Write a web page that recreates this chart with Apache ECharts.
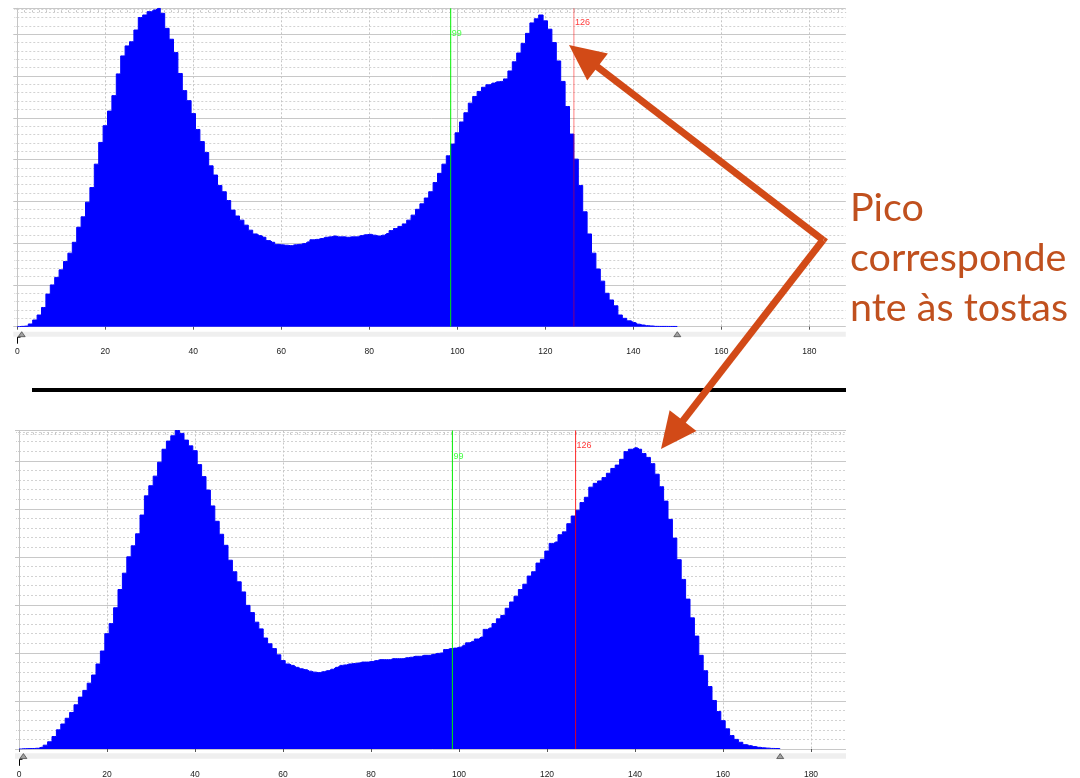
<!DOCTYPE html>
<html><head><meta charset="utf-8">
<script src="https://cdn.jsdelivr.net/npm/echarts@6/dist/echarts.min.js"></script>
<style>html,body{margin:0;padding:0;background:#fff}#c{width:1080px;height:778px}</style>
</head><body><div id="c"></div>
<script>
// ---------- data ----------
const xTickLabels = [0, 20, 40, 60, 80, 100, 120, 140, 160, 180];

// histogram counts per bin (bin k is centred on k), upper image (arbitrary units)
const topCounts = [
  0, 0.8, 1.5, 6.5, 16, 28, 46, 78, 100, 118,
  136, 156, 176, 202, 238, 263, 298, 333, 389, 441,
  481, 516, 553, 605, 648, 672, 682, 710, 740, 746,
  754, 758, 762, 750, 714, 688, 656, 606, 565, 541,
  510, 472, 443, 417, 385, 363, 338, 323, 302, 279,
  265, 255, 243, 231, 222, 218, 214, 206, 202, 197,
  196, 195, 194, 196, 197, 199, 203, 208, 209, 211,
  214, 215, 217, 215, 215, 214, 215, 215, 218, 220,
  221, 219, 217, 219, 223, 230, 235, 240, 246, 255,
  267, 281, 294, 308, 323, 345, 367, 389, 409, 437,
  464, 490, 512, 535, 551, 563, 573, 579, 583, 586,
  587, 593, 612, 634, 655, 678, 702, 727, 737, 746,
  732, 712, 680, 636, 587, 527, 461, 401, 338, 275,
  222, 176, 138, 109, 80, 64, 50, 28, 20, 14,
  10, 6, 4, 2.5, 1.7, 0.8, 0.7, 0.7, 0.6, 0.6,
  0.5
];

// histogram counts per bin, lower image
const bottomCounts = [
  0, 0.6, 0.8, 1, 1.5, 3.5, 8, 15, 26, 40,
  52, 64, 76, 92, 108, 122, 137, 154, 177, 204,
  240, 261, 294, 332, 366, 400, 423, 448, 487, 527,
  548, 568, 597, 624, 641, 652, 663, 657, 643, 631,
  621, 592, 567, 539, 506, 474, 447, 424, 393, 369,
  348, 327, 299, 284, 264, 250, 231, 219, 209, 196,
  184, 177, 174, 170, 167, 165, 162, 160, 159, 161,
  163, 166, 170, 174, 175, 177, 178, 179, 181, 181,
  182, 184, 186, 186, 186, 188, 188, 188, 190, 191,
  193, 193, 195, 195, 197, 199, 200, 207, 209, 210,
  212, 216, 221, 224, 229, 233, 249, 252, 261, 271,
  278, 293, 306, 318, 332, 343, 360, 369, 387, 395,
  412, 428, 431, 446, 452, 469, 485, 497, 513, 524,
  545, 553, 558, 565, 574, 584, 591, 603, 619, 624,
  627, 624, 615, 607, 594, 572, 546, 516, 478, 439,
  394, 353, 312, 273, 235, 195, 163, 130, 101, 78,
  59, 42, 28, 20, 14, 9, 7, 5, 3.5, 2.5,
  1.8, 1.2, 1, 0.7
];

const thresholds = [99, 126];            // inclusive threshold range (bins)
const thresholdLabels = ['99', '126'];
const topLabelLevels = [701, 727];       // y level of the threshold labels
const bottomLabelLevels = [609, 632];
const topCursors = [1, 150];             // range slider triangles
const bottomCursors = [1, 173];
const originMarker = [0];                // black cursor mark under the slider
const TOP_MAX = 762;
const BOTTOM_MAX = 663;

const annotationLines = ['Pico', 'corresponde', 'nte às tostas'];

// ---------- layout / style ----------
const PX_PER_UNIT = 4.4;
const panels = [
  { counts: topCounts, yMax: TOP_MAX, levels: topLabelLevels, cursors: topCursors,
    grid: { left: 17.3, top: 8.3, width: 828.5, height: 318.4 },
    strip: { left: 13.3, top: 331.7, width: 832.5, height: 5 },
    green: '#00ee00', red: 'rgba(255,0,0,0.5)', greenText: '#44ff44', redText: '#ff3b3b', labelMargin: 10.5 },
  { counts: bottomCounts, yMax: BOTTOM_MAX, levels: bottomLabelLevels, cursors: bottomCursors,
    grid: { left: 19, top: 430.5, width: 827, height: 318.5 },
    strip: { left: 15, top: 753.3, width: 831, height: 5.5 },
    green: '#00ee00', red: 'rgba(255,0,0,0.85)', greenText: '#44ff44', redText: '#ff3b3b', labelMargin: 11 }
];

const grids = [], xAxes = [], yAxes = [], series = [];
const DOT = [2, 2];

panels.forEach((p) => {
  const xMax = p.grid.width / PX_PER_UNIT;
  const gMain = grids.length;
  grids.push(Object.assign({ outerBoundsMode: 'none', containLabel: false, z: 0 }, p.grid));
  const gStrip = grids.length;
  grids.push(Object.assign({ outerBoundsMode: 'none', containLabel: false, show: true, z: 0,
    backgroundColor: '#efefef', borderWidth: 0 }, p.strip));

  const xBase = xAxes.length;
  xAxes.push({ gridIndex: gMain, z: 0, type: 'value', position: 'bottom', min: 0, max: xMax, interval: 20,
    axisLine: { show: false }, axisTick: { show: false }, axisLabel: { show: false },
    splitLine: { show: true, showMinLine: false, showMaxLine: false,
      lineStyle: { color: '#c6c6c6', type: DOT, width: 1 } } });
  xAxes.push({ gridIndex: gMain, z: 0, type: 'value', position: 'bottom', offset: 10, min: 0, max: xMax, interval: 20,
    axisLine: { show: false },
    axisTick: { show: true, length: 3, customValues: xTickLabels, lineStyle: { color: '#555', width: 1 } },
    axisLabel: { show: true, customValues: xTickLabels, margin: p.labelMargin, fontSize: 8.5,
      fontFamily: 'Liberation Sans', color: '#222' },
    splitLine: { show: false } });
  xAxes.push({ gridIndex: gMain, z: 0, type: 'value', position: 'bottom', min: 0, max: xMax, interval: 100,
    axisLine: { show: false }, axisTick: { show: false }, axisLabel: { show: false },
    splitLine: { show: true, showMinLine: false, showMaxLine: false,
      lineStyle: { color: '#c2c2c2', width: 1 } } });
  xAxes.push({ gridIndex: gMain, z: 0, type: 'value', position: 'top', offset: -4, min: 0, max: xMax, interval: 20,
    axisLine: { show: true, lineStyle: { color: '#cfcfcf', type: [1, 3] } },
    axisTick: { show: false }, axisLabel: { show: false }, splitLine: { show: false },
    minorTick: { show: true, splitNumber: 12, length: 2, lineStyle: { color: '#c4c4c4' } } });
  const xStrip = xAxes.length;
  const sMin = -(p.grid.left - p.strip.left) / PX_PER_UNIT;
  xAxes.push({ gridIndex: gStrip, z: 0, type: 'value', show: false, min: sMin,
    max: sMin + p.strip.width / PX_PER_UNIT });

  yAxes.push({ gridIndex: gMain, z: 0, type: 'value', position: 'left', min: 0, max: p.yMax, interval: 20,
    axisLine: { show: false }, axisLabel: { show: false },
    axisTick: { show: true, length: 4, lineStyle: { color: '#d0d0d0', type: [1, 1] } },
    splitLine: { show: true, showMinLine: false, showMaxLine: false,
      lineStyle: { color: '#d2d2d2', type: DOT, width: 1 } } });
  const yMajor = yAxes.length;
  yAxes.push({ gridIndex: gMain, z: 0, type: 'value', position: 'left', min: 0, max: p.yMax, interval: 100,
    axisLine: { show: true, lineStyle: { color: '#c4c4c4', width: 1 } }, axisLabel: { show: false },
    axisTick: { show: true, length: 4, lineStyle: { color: '#c4c4c4' } },
    splitLine: { show: true, lineStyle: { color: '#c8c8c8', width: 1 } } });
  const yStrip = yAxes.length;
  yAxes.push({ gridIndex: gStrip, z: 0, type: 'value', show: false, min: 0, max: 1 });

  // histogram: step area, each bin centred on its index
  series.push({
    type: 'line', xAxisIndex: xBase, yAxisIndex: yMajor, silent: true, z: 10,
    step: 'middle', symbol: 'none', showSymbol: false,
    lineStyle: { color: '#0000ff', width: 1 },
    areaStyle: { color: '#0000ff', opacity: 1 },
    data: p.counts.map((v, k) => [k, v])
  });

  // threshold lines at the outer bin edges of the inclusive range
  thresholds.forEach((t, i) => {
    const edge = i === 0 ? t - 0.5 : t + 0.5;
    series.push({
      type: 'line', xAxisIndex: xBase, yAxisIndex: yMajor, silent: true, z: 12,
      symbol: 'none', showSymbol: false,
      lineStyle: { color: i === 0 ? p.green : p.red, width: 1 },
      data: [[edge, 0], [edge, p.yMax]]
    });
  });
  // threshold labels
  series.push({
    type: 'custom', xAxisIndex: xBase, yAxisIndex: yMajor, silent: true, clip: false, z: 13,
    data: thresholds.map((t, i) => [i === 0 ? t - 0.5 : t + 0.5, p.levels[i]]),
    renderItem: function (params, api) {
      const pt = api.coord([api.value(0), api.value(1)]);
      const i = params.dataIndex;
      return { type: 'text', x: pt[0] + 1, y: pt[1],
        style: { text: thresholdLabels[i], fill: i === 0 ? p.greenText : p.redText,
          font: '9px "Liberation Sans"', align: 'left', verticalAlign: 'middle' } };
    }
  });

  // range slider triangles
  series.push({
    type: 'scatter', xAxisIndex: xStrip, yAxisIndex: yStrip, silent: true, z: 12,
    symbol: 'triangle', symbolSize: [7, 5],
    itemStyle: { color: '#8c8c8c', borderColor: '#333', borderWidth: 0.8 },
    data: p.cursors.map((c) => [c, 0.5])
  });

  // black cursor mark below the slider at x = 0
  series.push({
    type: 'custom', xAxisIndex: xStrip, yAxisIndex: yStrip, silent: true, clip: false, z: 12,
    data: originMarker.map((v) => [v, 0]),
    renderItem: function (params, api) {
      const pt = api.coord([api.value(0), api.value(1)]);
      const x = Math.round(pt[0]) + 0.5, y = pt[1] + 0.5;
      return { type: 'polyline', shape: { points: [[x + 3, y], [x, y], [x, y + 6.5]] },
        style: { stroke: '#000', lineWidth: 1, fill: null } };
    }
  });
});

// ---------- annotations ----------
const ARROW = '#d24a17';
const TEXT = '#c0501e';
const SHAFT_HALF = 3.5;
function norm(v) { const L = Math.hypot(v[0], v[1]); return [v[0] / L, v[1] / L]; }
function arrowShapes(from, to) {
  const u = norm([to[0] - from[0], to[1] - from[1]]);
  const n = [-u[1], u[0]];
  const hl = 36, hw = 17;
  const b = [to[0] - u[0] * hl, to[1] - u[1] * hl];
  const e = [b[0] + u[0] * 2, b[1] + u[1] * 2];
  const shaft = [
    [from[0] + n[0] * SHAFT_HALF, from[1] + n[1] * SHAFT_HALF],
    [e[0] + n[0] * SHAFT_HALF, e[1] + n[1] * SHAFT_HALF],
    [e[0] - n[0] * SHAFT_HALF, e[1] - n[1] * SHAFT_HALF],
    [from[0] - n[0] * SHAFT_HALF, from[1] - n[1] * SHAFT_HALF]
  ];
  const head = [[to[0], to[1]], [b[0] + n[0] * hw, b[1] + n[1] * hw], [b[0] - n[0] * hw, b[1] - n[1] * hw]];
  return { shaft, head, u, n };
}
const origin = [823, 240];
const a1 = arrowShapes(origin, [569, 45]);
const a2 = arrowShapes(origin, [661, 449]);
const bis = norm([-(a1.u[0] + a2.u[0]), -(a1.u[1] + a2.u[1])]);
const cosHalf = Math.sqrt((1 - (a1.u[0] * a2.u[0] + a1.u[1] * a2.u[1])) / 2);
const miter = [origin[0] + bis[0] * SHAFT_HALF / cosHalf, origin[1] + bis[1] * SHAFT_HALF / cosHalf];
const side = (a) => { const s = a.n[0] * bis[0] + a.n[1] * bis[1] > 0 ? 1 : -1;
  return [origin[0] + a.n[0] * SHAFT_HALF * s, origin[1] + a.n[1] * SHAFT_HALF * s]; };
const joinPoly = [origin, side(a1), miter, side(a2)];

const G_Z = 100;
const graphic = [
  { type: 'rect', z: G_Z, silent: true, shape: { x: 32, y: 388, width: 814, height: 4 }, style: { fill: '#000' } },
  { type: 'polygon', z: G_Z, silent: true, shape: { points: a1.shaft }, style: { fill: ARROW } },
  { type: 'polygon', z: G_Z, silent: true, shape: { points: a1.head }, style: { fill: ARROW } },
  { type: 'polygon', z: G_Z, silent: true, shape: { points: a2.shaft }, style: { fill: ARROW } },
  { type: 'polygon', z: G_Z, silent: true, shape: { points: a2.head }, style: { fill: ARROW } },
  { type: 'polygon', z: G_Z, silent: true, shape: { points: joinPoly }, style: { fill: ARROW } }
];
annotationLines.forEach((t, i) => {
  graphic.push({ type: 'text', z: G_Z, silent: true, x: 850, y: 208 + i * 50,
    style: { text: t, fill: TEXT, font: '39.5px Lato', align: 'left', verticalAlign: 'middle' } });
});

const chart = echarts.init(document.getElementById('c'), null, { width: 1080, height: 778 });
chart.setOption({
  animation: false,
  backgroundColor: '#ffffff',
  grid: grids, xAxis: xAxes, yAxis: yAxes, series: series,
  graphic: { elements: graphic }
});
</script>
</body></html>
